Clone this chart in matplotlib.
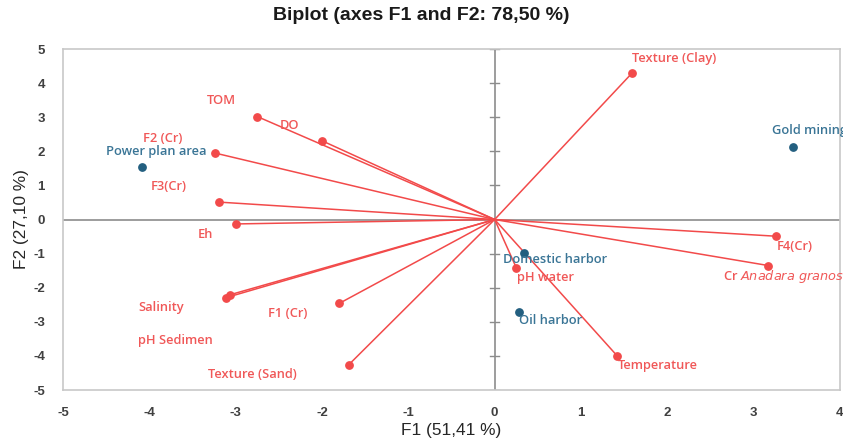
import matplotlib
matplotlib.use('Agg')
import matplotlib.pyplot as plt

plt.rcParams['axes.unicode_minus'] = False

# variables (red vectors)
var_names = ['Texture (Clay)', 'TOM', 'DO', 'F2 (Cr)', 'F3(Cr)', 'Eh', 'Salinity',
             'pH Sedimen', 'F1 (Cr)', 'Texture (Sand)', 'F4(Cr)', 'Cr Anadara granosa',
             'pH water', 'Temperature']
var_f1 = [1.59, -2.75, -2.00, -3.24, -3.19, -3.00, -3.07, -3.11, -1.80, -1.69, 3.26, 3.17, 0.25, 1.42]
var_f2 = [4.29, 3.02, 2.31, 1.95, 0.51, -0.13, -2.21, -2.29, -2.46, -4.26, -0.49, -1.35, -1.41, -4.00]

# observations (blue points)
obs_names = ['Power plan area', 'Gold mining', 'Domestic harbor', 'Oil harbor']
obs_f1 = [-4.08, 3.46, 0.34, 0.28]
obs_f2 = [1.55, 2.12, -0.97, -2.70]

# label anchor positions (data units), ha
var_lab = [(2.08, 4.73, 'center'), (-3.17, 3.48, 'center'), (-2.38, 2.76, 'center'),
           (-3.85, 2.39, 'center'), (-3.77, 0.96, 'center'), (-3.35, -0.44, 'center'),
           (-3.86, -2.58, 'center'), (-3.70, -3.56, 'center'), (-2.40, -2.76, 'center'),
           (-2.81, -4.54, 'center'), (3.48, -0.80, 'center'), (2.65, -1.66, 'left'),
           (0.59, -1.70, 'center'), (1.89, -4.29, 'center')]
obs_lab = [(-3.92, 2.00, 'center'), (3.21, 2.60, 'left'), (0.70, -1.17, 'center'),
           (0.65, -2.97, 'center')]

red = '#F24A4A'
red_txt = '#F05858'
blue = '#235F80'
blue_txt = '#3A7596'

fig = plt.figure(figsize=(8.43, 4.44), dpi=100)
ax = fig.add_axes([0.0747, 0.1216, 0.9217, 0.768])
ax.set_xlim(-5, 4)
ax.set_ylim(-5, 5)

ax.axhline(0, color='#8C8C8C', lw=1.2, zorder=1)
ax.axvline(0, color='#8C8C8C', lw=1.2, zorder=1)
for t in range(-5, 6):
    if t != 0:
        ax.plot([-0.05, 0.05], [t, t], color='#8C8C8C', lw=1.0, zorder=1)

for x, y in zip(var_f1, var_f2):
    ax.plot([0, x], [0, y], color=red, lw=1.1, zorder=2)
ax.scatter(var_f1, var_f2, s=28, color=red, zorder=3)
ax.scatter(obs_f1, obs_f2, s=28, color=blue, zorder=3)

font = ['Open Sans', 'DejaVu Sans']
for name, (lx, ly, ha) in zip(var_names, var_lab):
    if name == 'Cr Anadara granosa':
        name = 'Cr $\\it{Anadara\\ granosa}$'
    ax.text(lx, ly, name, color=red_txt, fontsize=9.3, fontweight='semibold',
            family=font, ha=ha, va='center', clip_on=False, zorder=4)
for name, (lx, ly, ha) in zip(obs_names, obs_lab):
    ax.text(lx, ly, name, color=blue_txt, fontsize=9.3, fontweight='semibold',
            family=font, ha=ha, va='center', clip_on=False, zorder=4)

for s in ax.spines.values():
    s.set_color('#C8C8C8')
    s.set_linewidth(1.2)
ax.set_xticks(range(-5, 5))
ax.set_yticks(range(-5, 6))
ax.tick_params(length=0, labelsize=9.5, labelcolor='#404040')
ax.tick_params(axis='x', pad=12)
ax.tick_params(axis='y', pad=13)
for lab in ax.get_xticklabels() + ax.get_yticklabels():
    lab.set_fontweight('bold')
    lab.set_family('Liberation Sans')

ax.set_xlabel('F1 (51,41 %)', fontsize=12.4, family='Liberation Sans', color='#262626', labelpad=3)
ax.set_ylabel('F2 (27,10 %)', fontsize=12.4, family='Liberation Sans', color='#262626', labelpad=3)
fig.suptitle('Biplot (axes F1 and F2: 78,50 %)', x=0.5, y=0.985, fontsize=14,
             fontweight='bold', family='Liberation Sans', color='#1a1a1a')

fig.savefig('out.png', dpi=100)
